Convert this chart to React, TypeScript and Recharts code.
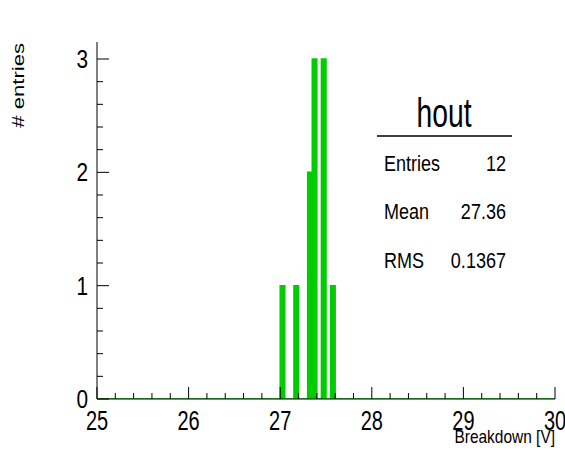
import React from 'react';
import { ComposedChart, Area, XAxis, YAxis } from 'recharts';

// histogram "hout": 100 bins of 0.05 V between 25 and 30, only filled bins listed
const binWidth = 0.05;
const binLow = [27.0, 27.15, 27.3, 27.35, 27.45, 27.55];
const binCounts = [1, 1, 2, 3, 3, 1];

const xMajor = [25, 26, 27, 28, 29, 30];
const yMajor = [0, 1, 2, 3];
const minorDiv = 5;

const statLabels = ['Entries', 'Mean', 'RMS'];
const statValues = ['12', '27.36', '0.1367'];

const W = 565;
const H = 450;
const font = '"Liberation Sans", Arial, sans-serif';
const green = '#00cc00';

const round = (v: number) => Math.round(v * 1000) / 1000;

// step data: one point per bin low edge, plus the closing edge at 30
const histData: { x: number; count: number }[] = [];
const nBins = Math.round((xMajor[xMajor.length - 1] - xMajor[0]) / binWidth);
for (let i = 0; i <= nBins; i++) {
  const x = round(xMajor[0] + i * binWidth);
  const idx = binLow.findIndex((b) => Math.abs(b - x) < 1e-6);
  histData.push({ x, count: idx >= 0 ? binCounts[idx] : 0 });
}

const withMinor = (majors: number[]) => {
  const out: number[] = [];
  for (let i = 0; i < majors.length - 1; i++) {
    const step = (majors[i + 1] - majors[i]) / minorDiv;
    for (let j = 0; j < minorDiv; j++) out.push(round(majors[i] + j * step));
  }
  out.push(majors[majors.length - 1]);
  return out;
};
const xTicks = withMinor(xMajor);
const yTicks = withMinor(yMajor);

const isMajor = (v: number) => Math.abs(v - Math.round(v)) < 1e-6;

// ROOT's text is squeezed/stretched along the reading direction, sx does that
const NText = ({ x, y, size, sx = 0.8, anchor = 'start', rotate = 0, children }: any) => (
  <text
    transform={`translate(${x}, ${y}) rotate(${rotate}) scale(${sx}, 1)`}
    textAnchor={anchor}
    fontSize={size}
    fontFamily={font}
    fill="#000"
  >
    {children}
  </text>
);

const BottomTick = (props: any) => {
  const { x, y, payload } = props;
  const v = payload.value;
  const major = isMajor(v);
  return (
    <g>
      <line x1={x} x2={x} y1={y} y2={y - (major ? 12 : 6)} stroke="#000" />
      {major && (
        <NText x={x} y={y + 31} size={27} sx={0.74} anchor="middle">
          {v}
        </NText>
      )}
    </g>
  );
};

const TopTick = (props: any) => {
  const { x, y, payload } = props;
  const major = isMajor(payload.value);
  return <line x1={x} x2={x} y1={y} y2={y + (major ? 12 : 6)} stroke="#000" />;
};

const LeftTick = (props: any) => {
  const { x, y, payload } = props;
  const v = payload.value;
  const major = isMajor(v);
  return (
    <g>
      <line x1={x} x2={x + (major ? 12 : 6)} y1={y} y2={y} stroke="#000" />
      {major && (
        <NText x={x - 9} y={y + 9} size={26} sx={0.8} anchor="end">
          {v}
        </NText>
      )}
    </g>
  );
};

const RightTick = (props: any) => {
  const { x, y, payload } = props;
  const major = isMajor(payload.value);
  return <line x1={x} x2={x - (major ? 12 : 6)} y1={y} y2={y} stroke="#000" />;
};

export default function App() {
  return (
    <div style={{ position: 'absolute', left: 0, top: 0, width: W, height: H, background: '#fff' }}>
      <ComposedChart
        width={W}
        height={H}
        data={histData}
        margin={{ top: 42, right: 10, left: 0, bottom: 0 }}
      >
        <XAxis
          xAxisId="bottom"
          dataKey="x"
          type="number"
          domain={[25, 30]}
          ticks={xTicks}
          interval={0}
          height={51}
          tickSize={0}
          tickMargin={0}
          tickLine={false}
          tick={<BottomTick />}
          axisLine={{ stroke: '#000' }}
          allowDataOverflow
        />
        <XAxis
          xAxisId="top"
          orientation="top"
          dataKey="x"
          type="number"
          domain={[25, 30]}
          ticks={xTicks}
          interval={0}
          height={0}
          tickSize={0}
          tickMargin={0}
          tickLine={false}
          tick={<TopTick />}
          axisLine={{ stroke: '#000' }}
          allowDataOverflow
        />
        <YAxis
          yAxisId="left"
          type="number"
          domain={[0, 3.15]}
          ticks={yTicks}
          interval={0}
          width={97}
          tickSize={0}
          tickMargin={0}
          tickLine={false}
          tick={<LeftTick />}
          axisLine={{ stroke: '#000' }}
          allowDataOverflow
        />
        <YAxis
          yAxisId="right"
          orientation="right"
          type="number"
          domain={[0, 3.15]}
          ticks={yTicks}
          interval={0}
          width={0}
          tickSize={0}
          tickMargin={0}
          tickLine={false}
          tick={<RightTick />}
          axisLine={{ stroke: '#000' }}
          allowDataOverflow
        />
        <Area
          xAxisId="bottom"
          yAxisId="left"
          type="stepAfter"
          dataKey="count"
          stroke={green}
          strokeWidth={1.5}
          fill={green}
          fillOpacity={1}
          dot={false}
          activeDot={false}
          isAnimationActive={false}
        />
      </ComposedChart>
      <svg
        width={W}
        height={H}
        style={{ position: 'absolute', left: 0, top: 0, pointerEvents: 'none' }}
      >
        <NText x={23.5} y={43} size={16} sx={1.38} anchor="end" rotate={-90}>
          # entries
        </NText>
        <NText x={555} y={443} size={18} sx={0.86} anchor="end">
          Breakdown [V]
        </NText>
        <NText x={444} y={127} size={41} sx={0.69} anchor="middle">
          hout
        </NText>
        <line x1={377} x2={512} y1={136} y2={136} stroke="#000" strokeWidth={1.5} />
        {statLabels.map((label, i) => (
          <g key={label}>
            <NText x={384} y={171 + i * 48.3} size={22} sx={0.82}>
              {label}
            </NText>
            <NText x={506} y={171 + i * 48.3} size={22} sx={0.82} anchor="end">
              {statValues[i]}
            </NText>
          </g>
        ))}
      </svg>
    </div>
  );
}
